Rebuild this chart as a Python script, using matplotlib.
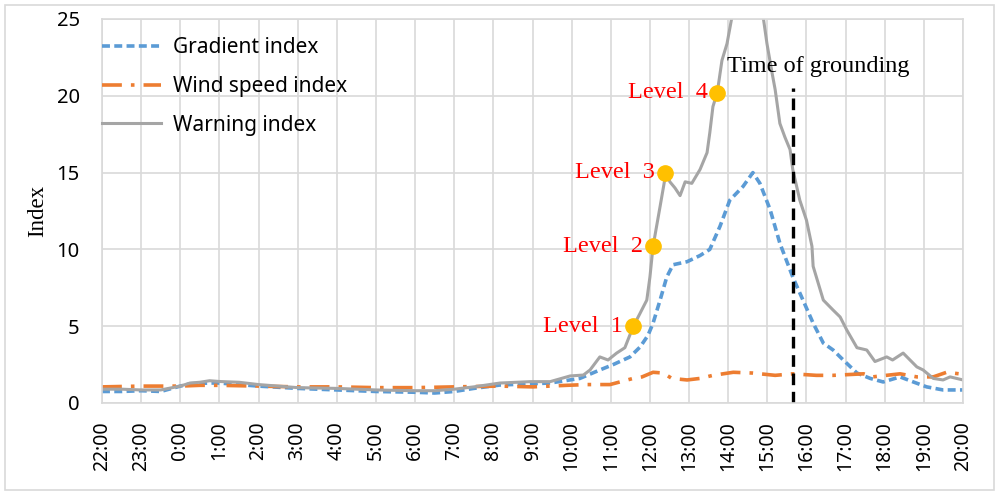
import numpy as np
import matplotlib.pyplot as plt
from matplotlib.patches import Rectangle

# hours elapsed since 22:00
hour_labels = ["22:00", "23:00"] + [f"{h}:00" for h in range(0, 21)]

grad_t = [0, 0.5, 1.0, 1.5, 2.0, 2.25, 2.75, 3.0, 3.5, 4.0, 5.0, 6.0, 7.0, 8.0,
          8.5, 9.0, 9.5, 10.17, 11.45, 12.21, 12.72, 13.06, 13.49, 13.75, 13.95,
          14.08, 14.26, 14.43, 14.59, 14.95, 15.28, 15.53, 15.79, 16.04, 16.38,
          16.63, 16.81, 17.07, 17.32, 17.65, 17.91, 18.17, 18.43, 18.68, 18.94,
          19.29, 19.63, 19.96, 20.39, 20.73, 21.07, 21.49, 21.9, 22.0]
grad_v = [0.75, 0.75, 0.8, 0.75, 1.1, 1.25, 1.3, 1.3, 1.2, 1.1, 0.95, 0.85, 0.75,
          0.7, 0.65, 0.75, 0.95, 1.17, 1.3, 1.6, 2.15, 2.5, 3.0, 3.65, 4.4,
          5.2, 6.7, 8.2, 9.0, 9.2, 9.6, 10.0, 11.5, 13.2, 14.1,
          15.0, 14.3, 12.6, 10.4, 8.2, 6.7, 5.2, 3.9, 3.45, 2.8,
          1.95, 1.6, 1.37, 1.7, 1.37, 1.05, 0.85, 0.85, 0.85]

wind_t = [0, 1.0, 2.0, 2.5, 3.0, 4.0, 5.0, 6.0, 7.0, 8.0, 9.0, 10.17, 11.0,
          11.87, 12.38, 12.98, 13.57, 13.8, 14.08, 14.34, 14.56, 14.95, 15.28,
          15.61, 16.13, 16.63, 17.2, 17.65, 18.25, 18.68, 19.46, 19.69, 20.39,
          20.82, 21.24, 21.58, 21.9, 22.0]
wind_v = [1.05, 1.1, 1.1, 1.15, 1.15, 1.1, 1.05, 1.05, 1.0, 1.0, 1.05, 1.1, 1.05,
          1.15, 1.2, 1.2, 1.6, 1.7, 2.0, 1.95, 1.6, 1.5, 1.6,
          1.8, 2.0, 1.95, 1.8, 1.9, 1.8, 1.8, 1.9, 1.7, 1.9,
          1.7, 1.7, 2.0, 1.9, 1.9]

warn_t = [0, 0.5, 1.0, 1.5, 2.0, 2.25, 2.5, 2.75, 3.0, 3.5, 4.0, 4.5, 5.0, 6.0,
          7.0, 8.0, 8.5, 9.0, 9.5, 10.17, 10.94, 11.45, 11.96, 12.3, 12.47,
          12.72, 12.93, 13.15, 13.36, 13.57, 13.75, 13.92, 14.0, 14.08, 14.26,
          14.41, 14.51, 14.64, 14.77, 14.9, 15.07, 15.28, 15.46, 15.53, 15.61,
          15.72, 15.84, 15.97, 16.1, 16.4, 16.7, 16.89, 16.99, 17.12, 17.2,
          17.32, 17.45, 17.58, 17.65, 17.83, 18.0, 18.14, 18.17, 18.43, 18.68,
          18.86, 19.03, 19.29, 19.54, 19.75, 20.05, 20.2, 20.47, 20.82, 20.98,
          21.24, 21.49, 21.67, 22.0]
warn_v = [0.9, 0.9, 0.85, 0.85, 1.1, 1.3, 1.35, 1.45, 1.4, 1.35, 1.2, 1.1, 1.0,
          0.95, 0.85, 0.8, 0.8, 0.9, 1.05, 1.3, 1.39, 1.39, 1.76, 1.82, 2.15,
          3.0, 2.8, 3.25, 3.6, 4.96, 5.85, 6.7, 8.2, 10.2, 12.8,
          15.0, 14.4, 14.0, 13.5, 14.4, 14.3, 15.2, 16.3, 17.6, 19.3,
          20.2, 22.3, 23.4, 25.2, 27.0, 27.0, 25.2, 23.4, 21.5, 20.4,
          18.2, 17.3, 16.5, 15.2, 13.2, 11.9, 10.2, 8.9, 6.7, 6.05,
          5.6, 4.75, 3.6, 3.45, 2.7, 3.0, 2.8, 3.25, 2.35, 2.15,
          1.6, 1.5, 1.7, 1.5]

level_names = ["Level  1", "Level  2", "Level  3", "Level  4"]
level_t = [13.57, 14.08, 14.38, 15.72]
level_v = [5.0, 10.2, 15.0, 20.2]

grounding_t = 17.65
grounding_top = 20.5

fig = plt.figure(figsize=(9.96, 4.92), dpi=100)
ax = fig.add_axes([0.1024, 0.1809, 0.8645, 0.7805])
fig.patches.append(Rectangle((0.005, 0.004), 0.993, 0.985, transform=fig.transFigure,
                             fill=False, edgecolor="#d9d9d9", linewidth=1.2))

ax.plot(grad_t, grad_v, color="#5B9BD5", lw=2.6, dashes=(2.2, 1.2),
        label="Gradient index")
ax.plot(wind_t, wind_v, color="#ED7D31", lw=2.6, dashes=(5.5, 2.5, 1, 2.5),
        label="Wind speed index")
ax.plot(warn_t, warn_v, color="#A5A5A5", lw=2.2, label="Warning index")

ax.plot([grounding_t, grounding_t], [0, grounding_top], color="black", lw=2.4,
        dashes=(3.5, 2))
ax.text(15.97, 21.9, "Time of grounding", family="Liberation Serif",
        fontsize=17.5, color="black", ha="left", va="center")

ax.plot(level_t, level_v, "o", color="#FFC000", ms=11, zorder=5)
for name, t, v in zip(level_names, level_t, level_v):
    ax.text(t - 0.25, v, name, family="Liberation Serif", fontsize=17.5,
            color="red", ha="right", va="center")

ax.set_xlim(0, 22)
ax.set_ylim(0, 25)
ax.set_xticks(range(23))
ax.set_xticklabels(hour_labels, rotation=90, family="Noto Sans", fontsize=14)
ax.set_yticks([0, 5, 10, 15, 20, 25])
ax.set_yticklabels(["0", "5", "10", "15", "20", "25"], family="Noto Sans",
                   fontsize=14.5)
ax.tick_params(length=0)
ax.tick_params(axis="x", pad=13)
ax.tick_params(axis="y", pad=16)
ax.set_ylabel("Index", family="Liberation Serif", fontsize=16.5, labelpad=6)

ax.grid(True, color="#d9d9d9", lw=1.2)
ax.set_axisbelow(True)
for s in ax.spines.values():
    s.set_color("#d9d9d9")
    s.set_linewidth(1.2)

leg = ax.legend(loc="upper left", frameon=False, handlelength=2.85,
                prop={"family": "Noto Sans", "size": 15},
                bbox_to_anchor=(-0.015, 0.985), labelspacing=0.85,
                handletextpad=0.6, borderaxespad=0.2)

fig.savefig("out.png", dpi=100)
